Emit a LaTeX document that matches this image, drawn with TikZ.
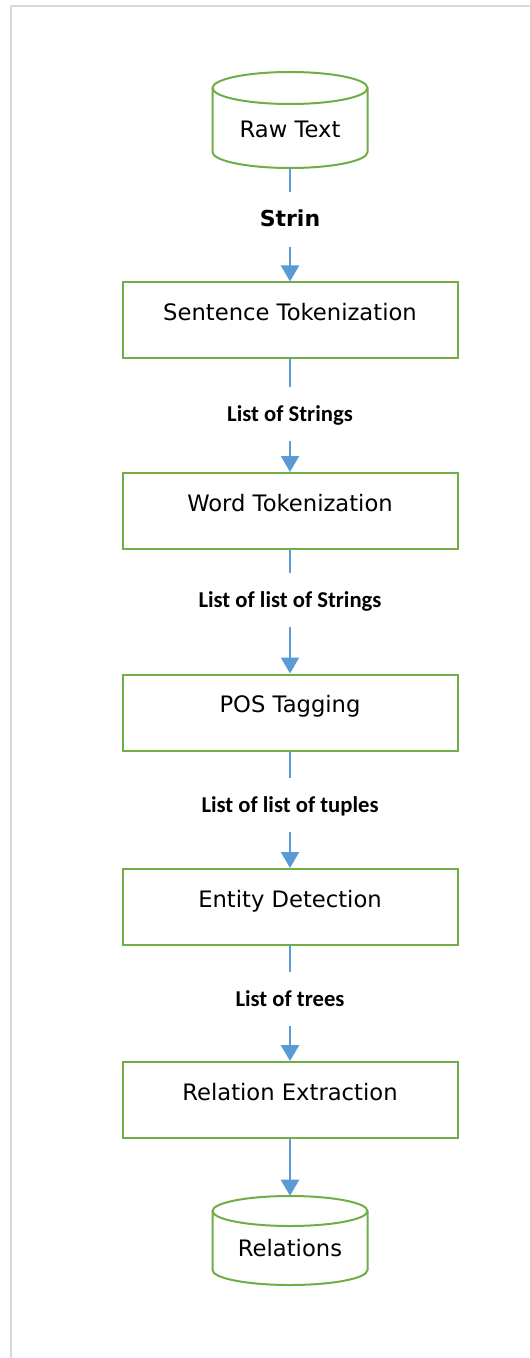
\documentclass[tikz,border=0pt]{standalone}
\usepackage{fontspec}
\setmainfont{DejaVu Sans}
\newfontfamily\lblfont{Carlito}
\usetikzlibrary{arrows.meta}
\definecolor{boxgreen}{HTML}{70AD47}
\definecolor{arrblue}{HTML}{5B9BD5}
\definecolor{framegray}{HTML}{D9D9D9}
\begin{document}
\begin{tikzpicture}[x=0.75pt,y=0.75pt,
  stepbox/.style={draw=boxgreen,line width=1.5pt,minimum width=251.25pt,minimum height=57pt,
    inner sep=0pt,font=\fontsize{17pt}{20pt}\selectfont,text height=6pt,text depth=6pt},
  cylnode/.style={inner sep=0pt,minimum width=116.25pt,font=\fontsize{17pt}{20pt}\selectfont},
  cylline/.style={draw=boxgreen,line width=1.5pt},
  lbl/.style={inner sep=0pt,minimum height=40.5pt,font=\lblfont\bfseries\fontsize{17pt}{20pt}\selectfont,text height=11pt,text depth=0pt},
  conn/.style={draw=arrblue,line width=1.5pt},
  arr/.style={conn,-{Triangle[width=13.5pt,length=12pt]}}]
\useasboundingbox (0,0) rectangle (530,-1358);
\fill[white] (0,0) rectangle (530,-1358);
\draw[framegray,line width=1.5pt] (11,-1358) -- (11,-6.5) -- (530,-6.5);

% cylinders (outlines)
\draw[cylline] (290,-88) ellipse [x radius=77.5, y radius=16];
\draw[cylline] (212.5,-88) -- (212.5,-152) arc[start angle=180,end angle=360,x radius=77.5,y radius=16] -- (367.5,-88);
\draw[cylline] (290,-1211) ellipse [x radius=77.5, y radius=15];
\draw[cylline] (212.5,-1211) -- (212.5,-1270) arc[start angle=180,end angle=360,x radius=77.5,y radius=15] -- (367.5,-1211);

\node[cylnode,minimum height=72pt,text height=27pt,text depth=0pt] (raw) at (290,-120) {Raw Text};
\node[stepbox] (sent) at (290,-320.5) {Sentence Tokenization};
\node[stepbox] (word) at (290,-511) {Word Tokenization};
\node[stepbox] (pos) at (290,-712.5) {POS Tagging};
\node[stepbox] (ent) at (290,-907) {Entity Detection};
\node[stepbox] (rel) at (290,-1100) {Relation Extraction};
\node[cylnode,minimum height=66.75pt,text height=24pt,text depth=0pt] (rels) at (290,-1240.5) {Relations};

\node[lbl,font=\bfseries\fontsize{16.5pt}{20pt}\selectfont] (l1) at (290,-219.5) {Strin};
\node[lbl] (l2) at (290,-414) {List of Strings};
\node[lbl] (l3) at (290,-600) {List of list of Strings};
\node[lbl] (l4) at (290,-805) {List of list of tuples};
\node[lbl] (l5) at (290,-999) {List of trees};

\draw[conn] (raw) -- (l1);
\draw[arr] (l1) -- (sent);
\draw[conn] (sent) -- (l2);
\draw[arr] (l2) -- (word);
\draw[conn] (word) -- (l3);
\draw[arr] (l3) -- (pos);
\draw[conn] (pos) -- (l4);
\draw[arr] (l4) -- (ent);
\draw[conn] (ent) -- (l5);
\draw[arr,line width=2pt] (l5) -- (rel);
\draw[arr,line width=2pt] (rel) -- (rels);
\end{tikzpicture}
\end{document}
